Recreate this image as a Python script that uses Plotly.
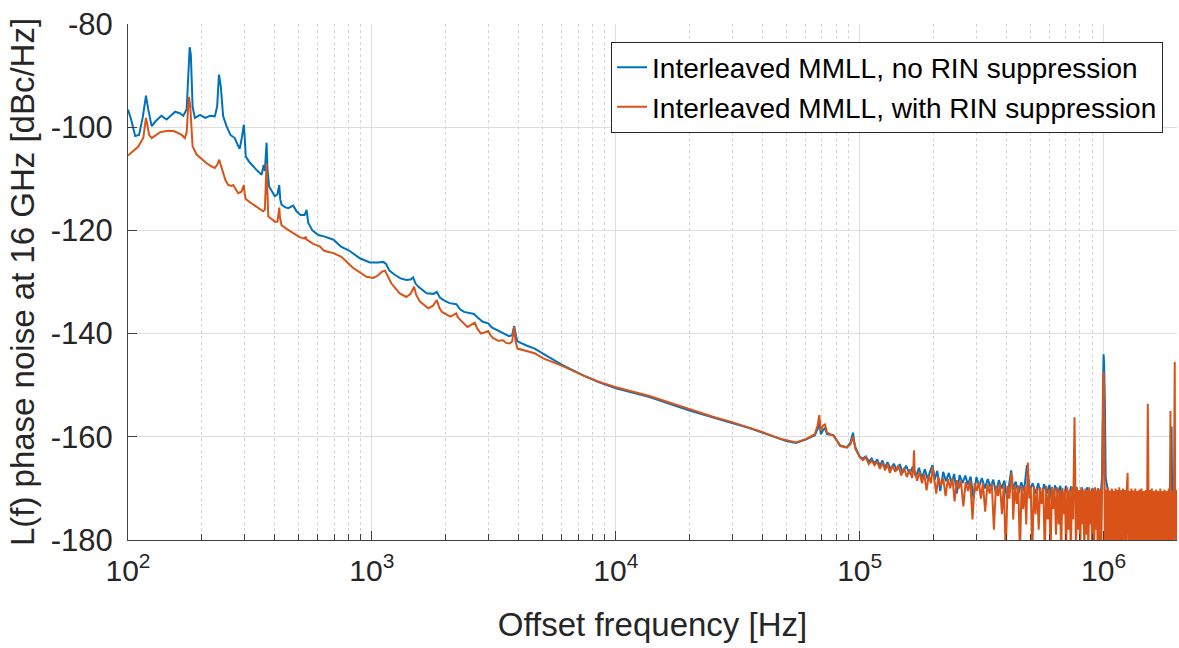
import plotly.graph_objects as go

# ---------------- data ----------------
# Blue: Interleaved MMLL, no RIN suppression (low / mid offsets, Hz)
blue_low_f = [100, 103, 107, 111, 115, 118.5, 121, 125, 130, 137, 144, 150, 156, 163, 168.5, 174, 177, 179, 181, 184,
              188, 197.5, 207, 217, 227, 232, 236, 240, 245.6, 253.5, 263, 274, 282, 287, 293, 298.5, 301, 304, 315, 326,
              340, 353, 360, 364, 370, 373, 379, 390, 400, 410, 417, 421, 426, 440, 454, 476, 491, 510, 530, 540,
              548, 570, 603, 641, 696, 750, 800, 893, 981, 1060, 1113, 1143, 1180, 1240, 1310, 1385, 1440, 1475, 1510, 1548,
              1677, 1787, 1846, 1900, 1968, 2080, 2167, 2220, 2300, 2387, 2625, 2700, 2846, 3001, 3100, 3254, 3450, 3649, 3760, 3831,
              3900, 3953, 4300, 4648, 5340, 6000, 7343, 8500, 10010, 13740, 20050, 25000, 30200, 35300, 40000, 46700, 50000, 54800,
              60400, 65500, 67500, 68300, 69300, 70800, 72100, 73500, 78100, 83200, 88700, 91500, 93900, 95000, 96000]
blue_low_db = [-96.6, -98.5, -101.7, -101.5, -98, -93.9, -96.5, -99.8, -98.8, -97.8, -98.5, -97.8, -97.0, -97.3, -97.8, -96.5, -88, -84.5, -86, -96,
               -98.2, -97.6, -98.2, -97.8, -97.9, -96, -89.8, -92, -97.9, -99.8, -101.5, -102.1, -103.5, -104.2, -102, -99.5, -102, -105.7, -106.8, -107.6,
               -108.5, -109.2, -107.3, -108.5, -103, -108, -111.5, -112.5, -113.4, -113, -111.2, -114, -115, -115.5, -115.7, -115.2, -116.3, -117, -117, -116,
               -118.5, -120, -120.9, -121.2, -121.8, -123.2, -123.8, -125.4, -126.2, -126.2, -126.1, -126.5, -127.8, -128.6, -129.3, -129.6, -129.5, -129.1, -130.3, -130.9,
               -132.2, -132.3, -131.9, -133, -133.5, -134.1, -134.3, -134.3, -135.3, -135.8, -136.2, -136.8, -137.7, -138, -138.8, -139.3, -140, -140.5, -140.3, -138.5,
               -140.5, -141.5, -142.3, -142.9, -144.6, -146, -148.1, -149.4, -150.6, -152.3, -154.9, -156.3, -157.4, -158.3, -159.2, -160.4, -160.8, -161.2,
               -160.5, -159.7, -158.3, -157.0, -159.5, -158.7, -158.3, -159.5, -159.7, -161.7, -162, -161.2, -159.2, -161, -162]

# Blue high offsets (kHz)
blue_hf_khz = [100, 103, 106, 109, 112, 115, 118, 121, 124, 127, 130, 134, 138, 142, 146, 150, 155, 160, 165, 170,
               175, 180, 185, 190, 195, 199, 203, 208, 214, 220, 226, 232, 238, 244, 250, 257, 264, 271, 278, 285,
               293, 301, 309, 317, 326, 335, 344, 353, 362, 372, 382, 392, 402, 412, 418, 424, 436, 448, 460, 472,
               485, 498, 512, 526, 540, 555, 570, 585, 600, 616, 632, 648, 665, 682, 700, 718, 737, 756, 775, 795,
               815, 836, 857, 879, 901, 924, 947, 970, 985, 995, 1000, 1005, 1012, 1020, 1040, 1062, 1085, 1108, 1131, 1155,
               1180, 1205, 1230, 1256, 1282, 1309, 1337, 1365, 1394, 1423, 1453, 1484, 1515, 1547, 1580, 1613, 1647, 1682, 1717, 1753,
               1790, 1828, 1866, 1900, 1910, 1950, 2000]
blue_hf_db = [-163.9, -164.2, -163.8, -164.8, -164.2, -165.2, -164.4, -165.6, -164.6, -166, -164.9, -166.3, -165.2, -166.5, -165.3, -167, -165.6, -167.2, -165.8, -167.8,
              -166, -168, -166.3, -168.2, -166.5, -165.5, -168.3, -166.6, -170.5, -166.8, -168.6, -167, -169, -167.2, -171, -167.4, -169, -167.5, -169.3, -167.7,
              -172, -167.8, -169.5, -168, -170, -168.2, -169.8, -168.3, -171, -168.4, -170, -168.5, -172, -168.6, -166.5, -170.2, -168.7, -171, -168.8, -170.5,
              -165.5, -170.4, -169, -171, -169, -172, -169.2, -171, -169.3, -173, -169.4, -171, -169.5, -174, -169.5, -171.5, -169.6, -172, -169.7, -176,
              -169.8, -172, -169.8, -171.5, -170, -174, -170, -172, -168, -150, -144, -146, -153, -168, -170.2, -172, -170.3, -176, -170.3, -172,
              -170.4, -174, -170.5, -172, -170.5, -178, -170.6, -172.5, -170.6, -175, -170.7, -172, -170.7, -173, -170.8, -176, -170.8, -172, -170.9, -174,
              -171, -172, -171, -158, -171, -172, -171]

# Orange: Interleaved MMLL, with RIN suppression (low / mid offsets, Hz)
orange_low_f = [100, 105, 110, 115.5, 117, 118.5, 120, 122, 125, 130, 135, 142, 148.6, 155, 160.8, 166, 171, 174, 176, 177.9,
                180, 182, 184, 191, 200, 210, 218, 227, 232, 236.6, 240, 245.6, 251, 257.5, 265, 270, 275, 283, 292, 298.5,
                301, 304, 315, 326, 342, 358, 364, 367, 370, 372, 374, 376, 388, 400, 410, 414, 417, 420, 426, 450,
                476, 505, 530, 535, 540, 575, 611, 635, 652, 696, 750, 838, 951, 1013, 1060, 1100, 1131, 1150, 1203, 1300,
                1385, 1440, 1489, 1520, 1573, 1703, 1780, 1846, 1890, 1938, 2096, 2218, 2250, 2308, 2464, 2642, 2700, 2803, 3001, 3070,
                3143, 3300, 3449, 3550, 3676, 3760, 3831, 3880, 3953, 4648, 5040, 6000, 7343, 8500, 10010, 13740, 20050, 25000, 30200, 35300,
                40000, 46700, 50000, 54800, 60400, 65500, 67200, 68300, 69300, 70800, 72100, 73500, 78100, 83200, 88700, 91500, 93900, 95000, 96000]
orange_low_db = [-105.5, -104.7, -103.8, -102.1, -100, -98.2, -99.5, -101.5, -102.1, -101.5, -101, -100.8, -100.7, -100.8, -101.1, -101.5, -102.1, -101, -97, -94.1,
                 -96, -101, -103.7, -105.3, -106.2, -107, -107.5, -107.9, -107.3, -106.3, -107.3, -108.9, -110.3, -111.2, -111.4, -111.2, -111.8, -112.8, -112.5, -111.2,
                 -113, -113.9, -114.5, -115, -115.8, -116.3, -116, -110, -107, -111, -116.5, -117.3, -117.8, -118.3, -118.3, -117, -115.6, -117.5, -119, -119.8,
                 -120.5, -121.3, -121.6, -121.2, -121.8, -122.6, -123.1, -123.9, -124.1, -124.4, -125.1, -127.3, -129, -129.2, -128.7, -128, -127.8, -128.5, -130.3, -132.2,
                 -132.9, -132.3, -130.9, -132.5, -133.8, -135.1, -134.6, -133.5, -135, -135.8, -136.7, -136.1, -136.8, -137.4, -138.7, -137.9, -139, -140, -139.5, -140.4,
                 -140.9, -141.4, -141.3, -141.8, -141.9, -141.5, -138.7, -141.5, -142.9, -143.8, -144.8, -146.2, -148.1, -149.3, -150.4, -152.1, -154.7, -156.1, -157.2, -158.2,
                 -159.1, -160.3, -160.7, -161.1, -160.4, -159.5, -157.8, -155.8, -158.8, -157.8, -157.6, -159.2, -159.8, -161.8, -162.1, -161.5, -160.0, -161.5, -162.3]

# Orange high offsets (kHz)
orange_hf_khz = [100, 103, 106, 109, 112, 115, 118, 121, 124, 127, 130, 133, 136, 140, 144, 148, 152, 156, 160, 164,
                 166, 167, 168, 172, 176, 180, 184, 188, 192, 196, 199, 202, 206, 210, 215, 220, 225, 230, 235, 240,
                 245, 250, 255, 260, 266, 272, 278, 284, 290, 296, 302, 308, 314, 320, 327, 334, 341, 348, 355, 362,
                 369, 376, 383, 390, 397, 404, 411, 418, 422, 426, 433, 440, 447, 454, 461, 468, 475, 482, 489, 496,
                 503, 510, 518, 526, 534, 542, 550, 558, 566, 574, 582, 590, 598, 606, 614, 622, 630, 638, 646, 654,
                 662, 670, 678, 686, 694, 702, 710, 718, 726, 734, 742, 750, 755, 760, 765, 770, 778, 786, 794, 802,
                 810, 818, 826, 834, 842, 850, 858, 866, 874, 882, 890, 898, 906, 914, 922, 930, 938, 946, 954, 962,
                 970, 978, 986, 992, 996, 1000, 1004, 1008, 1014, 1020, 1030, 1040, 1050, 1060, 1070, 1080, 1090, 1100, 1110, 1120,
                 1130, 1140, 1150, 1160, 1170, 1180, 1190, 1200, 1210, 1220, 1232, 1245, 1255, 1262, 1275, 1288, 1300, 1312, 1325, 1338,
                 1350, 1363, 1376, 1390, 1403, 1417, 1431, 1445, 1460, 1474, 1489, 1503, 1512, 1518, 1525, 1533, 1548, 1563, 1578, 1594,
                 1610, 1626, 1642, 1658, 1675, 1692, 1709, 1726, 1743, 1760, 1778, 1796, 1814, 1832, 1850, 1868, 1880, 1886, 1905, 1924,
                 1943, 1958, 1968, 1985, 2000]
orange_hf_db = [-163.9, -164.5, -164, -165.3, -164.6, -165.5, -164.8, -166.2, -165, -166.5, -165.3, -167, -165.6, -166.8, -165.5, -167.5, -166, -167.8, -166.3, -168,
                -166, -162.6, -166.5, -168.5, -166.8, -169, -167.2, -170.4, -167.5, -169, -165.8, -168.5, -171, -167.8, -169.5, -168, -171.5, -168.2, -170, -168,
                -172.5, -168.4, -170, -168.5, -173.5, -168.8, -170.5, -168.5, -176, -169, -170.5, -168.8, -172, -169, -174.5, -169.2, -171, -169, -178, -169.5,
                -171.5, -169, -175, -169.3, -183, -169.5, -172, -167, -168, -176, -169.5, -173, -169.4, -183, -169.6, -174, -169.5, -177, -165, -172,
                -169.8, -183, -169.5, -175, -170, -178, -169.8, -173, -170, -183, -169.5, -176, -170.2, -183, -169.7, -174, -170, -179, -169.8, -177,
                -170.3, -183, -169.9, -175, -170.2, -183, -169.8, -178, -170.4, -183, -169.7, -176, -168, -156.2, -168, -183, -170, -178, -170.3, -183,
                -169.8, -177, -170.5, -183, -170, -179, -170.3, -183, -169.8, -177, -170.5, -183, -170, -183, -169.8, -178, -170.4, -183, -170, -183,
                -170.3, -183, -170, -165, -150, -147.4, -150, -165, -183, -170.2, -183, -169.8, -183, -170.4, -183, -170, -183, -170.5, -183, -170,
                -183, -170.3, -183, -169.8, -183, -170.5, -183, -170, -183, -170.3, -183, -170, -167, -183, -170.5, -183, -170, -183, -170.4, -183,
                -170, -183, -170.5, -183, -170.2, -183, -170, -183, -170.5, -183, -170.3, -183, -165, -153.6, -165, -183, -170.3, -183, -170, -183,
                -170.5, -183, -170.2, -183, -170.5, -183, -170, -183, -170.5, -183, -170.2, -183, -170.5, -183, -170, -183, -155, -183, -170.5, -183,
                -170, -145.5, -183, -170.3, -183]

x_tick_vals = [1e2, 1e3, 1e4, 1e5, 1e6]
x_tick_text = ["10<sup>2</sup>", "10<sup>3</sup>", "10<sup>4</sup>", "10<sup>5</sup>", "10<sup>6</sup>"]
x_minor_vals = [m * d for d in (1e2, 1e3, 1e4, 1e5) for m in range(2, 10)] + [2e6]
y_tick_vals = [-180, -160, -140, -120, -100, -80]
y_tick_text = ["-180", "-160", "-140", "-120", "-100", "-80"]

series_names = ["Interleaved MMLL, no RIN suppression", "Interleaved MMLL, with RIN suppression"]
colors = ["#0072BD", "#D95319"]

# ---------------- figure ----------------
blue_f = blue_low_f + [k * 1000 for k in blue_hf_khz]
blue_db = blue_low_db + blue_hf_db
orange_f = orange_low_f + [k * 1000 for k in orange_hf_khz]
orange_db = orange_low_db + orange_hf_db

fig = go.Figure()
fig.add_trace(go.Scatter(x=blue_f, y=blue_db, mode="lines", name=series_names[0],
                         line=dict(color=colors[0], width=2)))
fig.add_trace(go.Scatter(x=orange_f, y=orange_db, mode="lines", name=series_names[1],
                         line=dict(color=colors[1], width=2)))

axis_color = "#404040"
grid_major = "#dedede"
grid_minor = "#d4d4d4"
font_family = "Liberation Sans, Arial, sans-serif"

fig.update_layout(
    width=1179, height=648,
    margin=dict(l=128, r=2, t=24, b=108),
    paper_bgcolor="white", plot_bgcolor="white",
    font=dict(family=font_family, color="#262626", size=30),
    showlegend=True,
    legend=dict(x=0.9867, xanchor="right", y=0.966, yanchor="top",
                bgcolor="white", bordercolor="#262626", borderwidth=1,
                font=dict(size=28, color="#000000"), tracegroupgap=0,
                itemwidth=30),
    xaxis=dict(type="log", range=[2, 6.30103],
               tickmode="array", tickvals=x_tick_vals, ticktext=x_tick_text,
               ticks="inside", ticklen=9, tickcolor=axis_color,
               showline=True, linecolor=axis_color, linewidth=1,
               showgrid=True, gridcolor=grid_major, gridwidth=1,
               zeroline=False, mirror=False,
               tickfont=dict(size=30, color="#262626"),
               ticklabelstandoff=4,
               minor=dict(tickmode="array", tickvals=x_minor_vals, ticks="inside", ticklen=6,
                          tickcolor=axis_color, showgrid=True, gridcolor=grid_minor,
                          griddash="dot", gridwidth=1),
               title=dict(text="Offset frequency [Hz]", font=dict(size=33, color="#262626"), standoff=26)),
    yaxis=dict(range=[-180, -80],
               tickmode="array", tickvals=y_tick_vals, ticktext=y_tick_text,
               ticks="inside", ticklen=9, tickcolor=axis_color,
               showline=True, linecolor=axis_color, linewidth=1,
               showgrid=True, gridcolor=grid_major, gridwidth=1,
               zeroline=False, mirror=False,
               tickfont=dict(size=31, color="#262626"),
               ticklabelstandoff=8,
               title=dict(text="L(f) phase noise at 16 GHz [dBc/Hz]", font=dict(size=33, color="#262626"), standoff=6)),
)

fig.write_html("out.html")
